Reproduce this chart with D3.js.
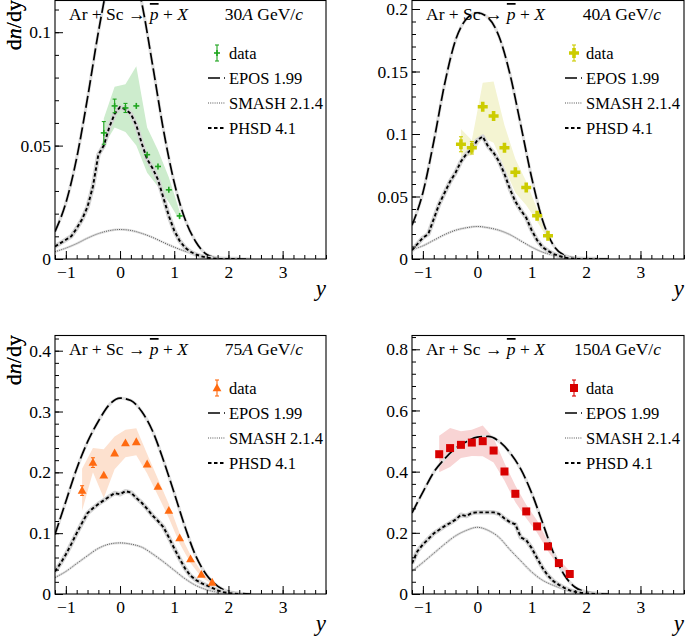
<!DOCTYPE html>
<html><head><meta charset="utf-8">
<script src="https://cdn.jsdelivr.net/npm/d3@7"></script>
</head><body style="margin:0;background:#fff"><svg id="c" width="685" height="641"></svg>
<script>
// ---------------- data ----------------
const energies = ["30", "40", "75", "150"];
const xTicks = [-1, 0, 1, 2, 3];
const yTicks30 = [0, 0.05, 0.1];
const yTicks40 = [0, 0.05, 0.1, 0.15, 0.2];
const yTicks75 = [0, 0.1, 0.2, 0.3, 0.4];
const yTicks150 = [0, 0.2, 0.4, 0.6, 0.8];
const legendLabels = ["data", "EPOS 1.99", "SMASH 2.1.4", "PHSD 4.1"];

// measured points: rapidity, dn/dy, stat. error, syst. band
const dataX30 = [-0.3, -0.1, 0.1, 0.3, 0.5, 0.7, 0.9, 1.1];
const data30 = [0.0556, 0.0675, 0.0666, 0.0675, 0.046, 0.0408, 0.0305, 0.019];
const err30 = [0.005, 0.003, 0.002, 0.0008, 0.0008, 0.0008, 0.0007, 0.0006];
const sysLo30 = [0.050, 0.058, 0.056, 0.050, 0.038, 0.032, 0.025, 0.017];
const sysHi30 = [0.062, 0.076, 0.077, 0.085, 0.058, 0.048, 0.036, 0.021];

const dataX40 = [-0.3, -0.1, 0.1, 0.3, 0.5, 0.7, 0.9, 1.1, 1.3];
const data40 = [0.0918, 0.089, 0.1218, 0.1144, 0.089, 0.0694, 0.0572, 0.0346, 0.0186];
const err40 = [0.006, 0.005, 0.002, 0.002, 0.002, 0.002, 0.0015, 0.0015, 0.001];
const sysLo40 = [0.081, 0.083, 0.097, 0.093, 0.073, 0.053, 0.043, 0.030, 0.016];
const sysHi40 = [0.104, 0.095, 0.141, 0.142, 0.107, 0.080, 0.062, 0.040, 0.021];

const dataX75 = [-0.7, -0.5, -0.3, -0.1, 0.1, 0.3, 0.5, 0.7, 0.9, 1.1, 1.3, 1.5, 1.7];
const data75 = [0.170, 0.216, 0.195, 0.2315, 0.248, 0.250, 0.2134, 0.1767, 0.137, 0.092, 0.0575, 0.032, 0.019];
const err75 = [0.008, 0.008, 0.004, 0.003, 0.003, 0.003, 0.003, 0.003, 0.002, 0.002, 0.002, 0.001, 0.001];
const sysLo75 = [0.137, 0.200, 0.158, 0.205, 0.225, 0.228, 0.198, 0.162, 0.125, 0.083, 0.051, 0.028, 0.016];
const sysHi75 = [0.206, 0.240, 0.238, 0.259, 0.270, 0.2725, 0.230, 0.189, 0.148, 0.100, 0.064, 0.037, 0.022];

const dataX150 = [-0.7, -0.5, -0.3, -0.1, 0.1, 0.3, 0.5, 0.7, 0.9, 1.1, 1.3, 1.5, 1.7];
const data150 = [0.457, 0.477, 0.4876, 0.495, 0.4996, 0.469, 0.4005, 0.3276, 0.270, 0.221, 0.1556, 0.101, 0.0653];
const err150 = [0.005, 0.005, 0.005, 0.005, 0.005, 0.005, 0.004, 0.004, 0.004, 0.003, 0.003, 0.003, 0.003];
const sysLo150 = [0.398, 0.415, 0.445, 0.451, 0.450, 0.430, 0.370, 0.300, 0.248, 0.200, 0.140, 0.090, 0.057];
const sysHi150 = [0.517, 0.543, 0.532, 0.537, 0.551, 0.510, 0.428, 0.355, 0.292, 0.240, 0.172, 0.113, 0.075];

// model curves: EPOS / SMASH on a 0.2 grid, PHSD on a 0.1 grid
const modelX = [-1.2, -1.0, -0.8, -0.6, -0.4, -0.2, 0, 0.2, 0.4, 0.6, 0.8, 1.0, 1.2, 1.4, 1.6, 1.8, 2.0, 2.2, 2.4];
const epos30 = [0.0121, 0.0247, 0.0445, 0.071, 0.100, 0.124, 0.136, 0.132, 0.113, 0.0856, 0.057, 0.0337, 0.0175, 0.0075, 0.002, 0.0005, 0.0001, 0, 0];
const smash30 = [0.0032, 0.0048, 0.0068, 0.0092, 0.0112, 0.0125, 0.013, 0.0126, 0.0113, 0.0095, 0.0073, 0.0052, 0.0034, 0.002, 0.001, 0.0004, 0.0001, 0, 0];
const epos40 = [0.027, 0.053, 0.094, 0.140, 0.175, 0.192, 0.197, 0.193, 0.178, 0.148, 0.107, 0.065, 0.031, 0.011, 0.003, 0.0008, 0.0002, 0, 0];
const smash40 = [0.0075, 0.0105, 0.015, 0.0195, 0.023, 0.025, 0.026, 0.025, 0.023, 0.0195, 0.0145, 0.0095, 0.0055, 0.003, 0.0013, 0.0004, 0.0001, 0, 0];
const epos75 = [0.098, 0.152, 0.206, 0.250, 0.284, 0.311, 0.322, 0.318, 0.300, 0.268, 0.220, 0.166, 0.110, 0.062, 0.031, 0.013, 0.004, 0.001, 0];
const smash75 = [0.027, 0.037, 0.050, 0.063, 0.075, 0.082, 0.084, 0.082, 0.077, 0.066, 0.053, 0.039, 0.025, 0.014, 0.007, 0.003, 0.0015, 0.0005, 0];
const epos150 = [0.265, 0.333, 0.398, 0.442, 0.476, 0.498, 0.513, 0.515, 0.499, 0.462, 0.408, 0.330, 0.233, 0.135, 0.062, 0.022, 0.007, 0.002, 0];
const smash150 = [0.075, 0.103, 0.133, 0.163, 0.190, 0.208, 0.218, 0.208, 0.185, 0.145, 0.108, 0.072, 0.045, 0.028, 0.015, 0.007, 0.003, 0.001, 0];

const phsdX = [-1.2, -1.1, -1.0, -0.9, -0.8, -0.7, -0.6, -0.5, -0.4, -0.3, -0.2, -0.1, 0, 0.1, 0.2, 0.3, 0.4, 0.5, 0.6, 0.7, 0.8, 0.9, 1.0, 1.1, 1.2, 1.3, 1.4, 1.5, 1.6, 1.7, 1.8, 1.9, 2.0, 2.1, 2.2];
const phsd30 = [0.0055, 0.007, 0.0085, 0.010, 0.0135, 0.0175, 0.023, 0.032, 0.046, 0.050, 0.058, 0.064, 0.067, 0.066, 0.064, 0.059, 0.051, 0.044, 0.040, 0.035, 0.027, 0.019, 0.0125, 0.008, 0.005, 0.0032, 0.002, 0.0012, 0.0006, 0.0003, 0.0001, 0, 0, 0, 0];
const phsd40 = [0.007, 0.012, 0.017, 0.020, 0.032, 0.044, 0.053, 0.062, 0.069, 0.078, 0.084, 0.088, 0.095, 0.098, 0.090, 0.085, 0.078, 0.068, 0.056, 0.046, 0.039, 0.033, 0.023, 0.015, 0.0095, 0.0065, 0.004, 0.0025, 0.0012, 0.0005, 0.0002, 0, 0, 0, 0];
const phsd75 = [0.037, 0.050, 0.065, 0.082, 0.100, 0.117, 0.133, 0.141, 0.148, 0.154, 0.160, 0.166, 0.164, 0.169, 0.167, 0.158, 0.150, 0.140, 0.129, 0.120, 0.110, 0.093, 0.075, 0.058, 0.042, 0.030, 0.023, 0.018, 0.014, 0.010, 0.006, 0.003, 0.0015, 0.0005, 0];
const phsd150 = [0.100, 0.140, 0.162, 0.180, 0.198, 0.210, 0.222, 0.232, 0.243, 0.259, 0.255, 0.265, 0.267, 0.267, 0.267, 0.267, 0.262, 0.247, 0.235, 0.228, 0.185, 0.176, 0.150, 0.117, 0.085, 0.060, 0.042, 0.030, 0.020, 0.012, 0.007, 0.004, 0.002, 0.001, 0];

// ---------------- layout / style ----------------
const panels = [
  {e: energies[0], dx: dataX30, dy: data30, de: err30, lo: sysLo30, hi: sysHi30, epos: epos30, smash: smash30, phsd: phsd30, yTicks: yTicks30},
  {e: energies[1], dx: dataX40, dy: data40, de: err40, lo: sysLo40, hi: sysHi40, epos: epos40, smash: smash40, phsd: phsd40, yTicks: yTicks40},
  {e: energies[2], dx: dataX75, dy: data75, de: err75, lo: sysLo75, hi: sysHi75, epos: epos75, smash: smash75, phsd: phsd75, yTicks: yTicks75},
  {e: energies[3], dx: dataX150, dy: data150, de: err150, lo: sysLo150, hi: sysHi150, epos: epos150, smash: smash150, phsd: phsd150, yTicks: yTicks150}
];
const frames = [
  {left: 55, right: 326, top: 0, bottom: 259, ymax: 0.1142, minor: 0.01},
  {left: 412, right: 684, top: 0, bottom: 259, ymax: 0.2072, minor: 0.01},
  {left: 55, right: 326, top: 335, bottom: 594, ymax: 0.4258, minor: 0.02},
  {left: 412, right: 684, top: 335, bottom: 594, ymax: 0.8467, minor: 0.04}
];
const styles = [
  {marker: "cross", color: "#1fa51f", band: "#cdeccd"},
  {marker: "thick", color: "#cccc00", band: "#f4f4d2"},
  {marker: "tri", color: "#ff6a10", band: "#fde1cf"},
  {marker: "sq", color: "#d80000", band: "#f8d4d4"}
];
const FONT = "Liberation Serif";

const svg = d3.select("#c");

function markerPath(type) {
  if (type === "thick") { const s = 5, w = 1.8;
    return `M${-w},${-s}H${w}V${-w}H${s}V${w}H${w}V${s}H${-w}V${w}H${-s}V${-w}H${-w}Z`; }
  if (type === "tri") return "M0,-4.6L4.4,3.2L-4.4,3.2Z";
  if (type === "sq") return "M-4,-4H4V4H-4Z";
  return null;
}
function drawMarker(g, type, color, cx, cy, yTop, yBot) {
  const cap = 2;
  const bar = g.append("g").attr("stroke", color).attr("stroke-width", 1.1);
  if (cy - yTop > 3) {
    bar.append("line").attr("x1", cx).attr("x2", cx).attr("y1", yTop).attr("y2", yBot);
    bar.append("line").attr("x1", cx - cap).attr("x2", cx + cap).attr("y1", yTop).attr("y2", yTop);
    bar.append("line").attr("x1", cx - cap).attr("x2", cx + cap).attr("y1", yBot).attr("y2", yBot);
  }
  if (type === "cross") {
    g.append("line").attr("x1", cx - 3).attr("x2", cx + 3).attr("y1", cy).attr("y2", cy)
      .attr("stroke", color).attr("stroke-width", 1.6);
    g.append("line").attr("x1", cx).attr("x2", cx).attr("y1", cy - 3).attr("y2", cy + 3)
      .attr("stroke", color).attr("stroke-width", 1.6);
  } else {
    g.append("path").attr("d", markerPath(type)).attr("transform", `translate(${cx},${cy})`)
      .attr("fill", color);
  }
}
function txt(sel) { return sel.append("text").attr("font-family", FONT).attr("fill", "#000"); }

panels.forEach((p, i) => {
  const F = frames[i], S = styles[i];
  const x = d3.scaleLinear().domain([-1.2, 3.8]).range([F.left, F.right]);
  const y = d3.scaleLinear().domain([0, F.ymax]).range([F.bottom, F.top]);
  const g = svg.append("g");

  const clipId = "clip" + i;
  svg.append("clipPath").attr("id", clipId).append("rect")
    .attr("x", F.left).attr("y", F.top).attr("width", F.right - F.left).attr("height", F.bottom - F.top);
  const plot = g.append("g").attr("clip-path", `url(#${clipId})`);

  // systematic band
  const band = p.dx.map((v, k) => ({x: v, lo: p.lo[k], hi: p.hi[k]}));
  plot.append("path").datum(band)
    .attr("d", d3.area().x(d => x(d.x)).y0(d => y(d.lo)).y1(d => y(d.hi)))
    .attr("fill", S.band);

  // model curves
  const smooth = d3.line().x(d => x(d[0])).y(d => y(d[1])).curve(d3.curveMonotoneX);
  const lin = d3.line().x(d => x(d[0])).y(d => y(d[1]));
  const smashPts = modelX.map((v, k) => [v, p.smash[k]]);
  const eposPts = modelX.map((v, k) => [v, p.epos[k]]);
  const phsdPts = phsdX.map((v, k) => [v, p.phsd[k]]);

  plot.append("path").datum(smashPts).attr("d", smooth).attr("fill", "none")
    .attr("stroke", "#e2e2e2").attr("stroke-width", 2.5);
  plot.append("path").datum(smashPts).attr("d", smooth).attr("fill", "none")
    .attr("stroke", "#555").attr("stroke-width", 1).attr("stroke-dasharray", "1,1.2");

  plot.append("path").datum(eposPts).attr("d", smooth).attr("fill", "none")
    .attr("stroke", "#e0e0e0").attr("stroke-width", 3.2);
  plot.append("path").datum(eposPts).attr("d", smooth).attr("fill", "none")
    .attr("stroke", "#000").attr("stroke-width", 1.7).attr("stroke-dasharray", "12,4");

  plot.append("path").datum(phsdPts).attr("d", lin).attr("fill", "none")
    .attr("stroke", "#d4d4d4").attr("stroke-width", 4.5).attr("stroke-linejoin", "round");
  plot.append("path").datum(phsdPts).attr("d", lin).attr("fill", "none")
    .attr("stroke", "#000").attr("stroke-width", 1.9).attr("stroke-dasharray", "3.5,2.5");

  // data points
  const dg = plot.append("g");
  p.dx.forEach((v, k) => {
    drawMarker(dg, S.marker, S.color, x(v), y(p.dy[k]), y(p.dy[k] + p.de[k]), y(p.dy[k] - p.de[k]));
  });

  // frame
  g.append("rect").attr("x", F.left).attr("y", F.top + 0.5)
    .attr("width", F.right - F.left).attr("height", F.bottom - F.top - 0.5)
    .attr("fill", "none").attr("stroke", "#000").attr("stroke-width", 1.1);

  // axes (ticks inside)
  g.append("g").attr("transform", `translate(0,${F.bottom})`)
    .call(d3.axisBottom(x).tickValues(xTicks).tickSize(-8).tickPadding(7).tickFormat(d3.format("d")));
  g.append("g").attr("transform", `translate(0,${F.bottom})`)
    .call(d3.axisBottom(x).tickValues(d3.range(-1.2, 3.81, 0.2)).tickSize(-4).tickFormat(""));
  g.append("g").attr("transform", `translate(${F.left},0)`)
    .call(d3.axisLeft(y).tickValues(p.yTicks).tickSize(-8).tickPadding(4)
      .tickFormat(d => d === 0 ? "0" : String(+d.toFixed(3))));
  g.append("g").attr("transform", `translate(${F.left},0)`)
    .call(d3.axisLeft(y).tickValues(d3.range(0, F.ymax, F.minor)).tickSize(-4).tickFormat(""));
  g.selectAll(".domain").remove();
  g.selectAll(".tick line").attr("stroke", "#000").attr("stroke-width", 1);
  g.selectAll(".tick text").attr("font-family", FONT).attr("font-size", 17.5).attr("fill", "#000");

  // axis titles
  const yt = txt(g).attr("transform", `translate(21,${F.top}) rotate(-90)`)
    .attr("text-anchor", "end").attr("font-size", 22);
  yt.append("tspan").text("d");
  yt.append("tspan").attr("font-style", "italic").text("n");
  yt.append("tspan").text("/dy");
  txt(g).attr("x", F.right).attr("y", F.bottom + 37).attr("text-anchor", "end")
    .attr("font-size", 23).attr("font-style", "italic").text("y");

  // panel title
  const t = txt(g).attr("x", F.left + 14).attr("y", F.top + 20).attr("font-size", 17.5);
  t.append("tspan").text("Ar + Sc \u2192 ");
  t.append("tspan").attr("font-style", "italic").attr("text-decoration", "overline").text("p");
  t.append("tspan").text(" + ");
  t.append("tspan").attr("font-style", "italic").text("X");
  const t2 = txt(g).attr("x", F.right - 23).attr("y", F.top + 20).attr("font-size", 17.5)
    .attr("text-anchor", "end");
  t2.append("tspan").text(p.e);
  t2.append("tspan").attr("font-style", "italic").text("A");
  t2.append("tspan").text(" GeV/");
  t2.append("tspan").attr("font-style", "italic").text("c");

  // legend
  const lx = F.left + 153, tx = F.left + 174;
  const rows = [53, 78, 103, 128].map(r => F.top + r);
  const lg = g.append("g");
  drawMarker(lg, S.marker, S.color, lx + 9, rows[0], rows[0] - 8, rows[0] + 8);
  lg.append("line").attr("x1", lx).attr("x2", lx + 17).attr("y1", rows[1]).attr("y2", rows[1])
    .attr("stroke", "#000").attr("stroke-width", 1.7).attr("stroke-dasharray", "12,4");
  lg.append("line").attr("x1", lx).attr("x2", lx + 17).attr("y1", rows[2]).attr("y2", rows[2])
    .attr("stroke", "#555").attr("stroke-width", 1).attr("stroke-dasharray", "1,1.2");
  lg.append("line").attr("x1", lx).attr("x2", lx + 17).attr("y1", rows[3]).attr("y2", rows[3])
    .attr("stroke", "#000").attr("stroke-width", 1.9).attr("stroke-dasharray", "3.5,2.5");
  legendLabels.forEach((lab, k) => {
    txt(lg).attr("x", tx).attr("y", rows[k]).attr("dy", "0.35em")
      .attr("font-size", 16.5).text(lab);
  });
});
</script></body></html>
